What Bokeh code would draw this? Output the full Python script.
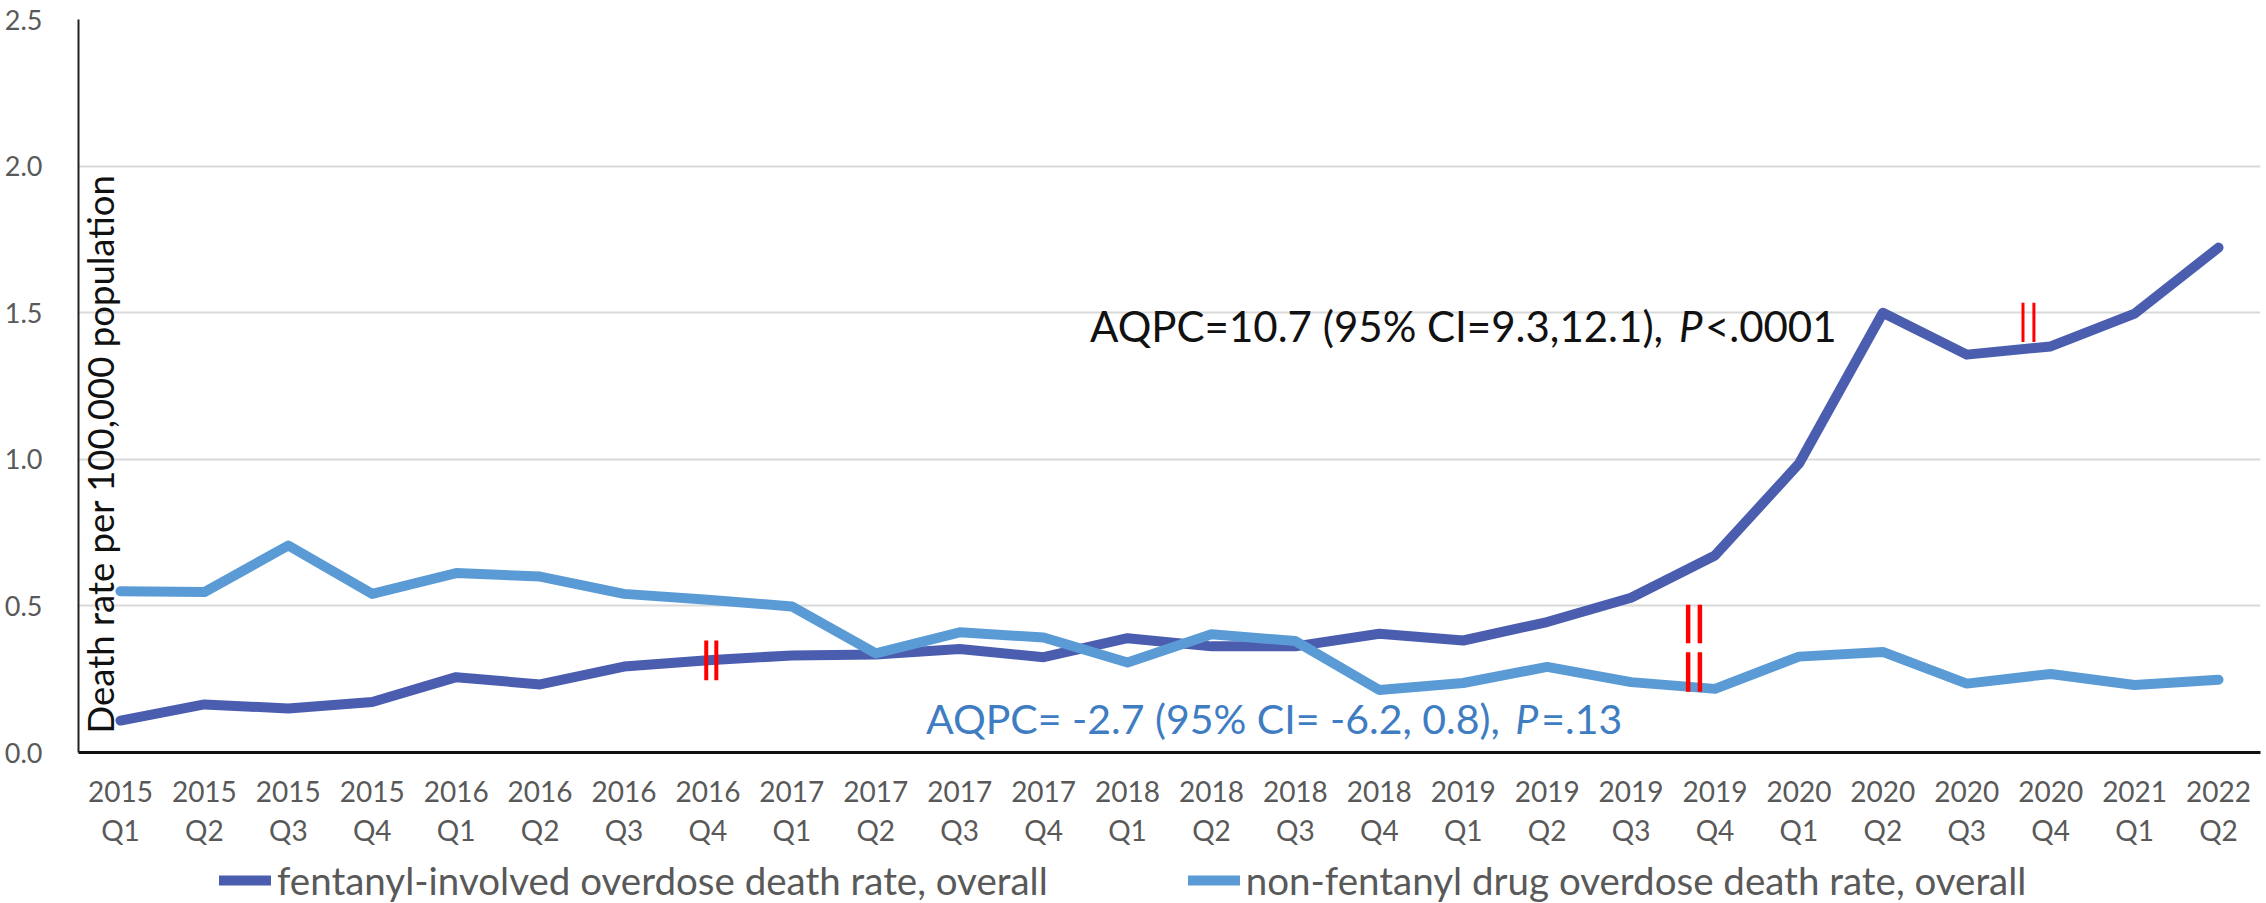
import math
from bokeh.plotting import figure
from bokeh.layouts import column
from bokeh.models import (FactorRange, Range1d, FixedTicker, NumeralTickFormatter,
                          Legend, LegendItem, Label)
from bokeh.embed import file_html
from bokeh.resources import INLINE

years = ["2015", "2015", "2015", "2015", "2016", "2016", "2016", "2016",
         "2017", "2017", "2017", "2017", "2018", "2018", "2018", "2018",
         "2019", "2019", "2019", "2019", "2020", "2020", "2020", "2020",
         "2021", "2022"]
quarters = ["Q1", "Q2", "Q3", "Q4", "Q1", "Q2", "Q3", "Q4",
            "Q1", "Q2", "Q3", "Q4", "Q1", "Q2", "Q3", "Q4",
            "Q1", "Q2", "Q3", "Q4", "Q1", "Q2", "Q3", "Q4",
            "Q1", "Q2"]
fentanyl = [0.109, 0.164, 0.150, 0.172, 0.257, 0.232, 0.293, 0.315,
            0.331, 0.334, 0.353, 0.325, 0.390, 0.362, 0.362, 0.405,
            0.382, 0.445, 0.528, 0.672, 0.985, 1.500, 1.357, 1.385,
            1.497, 1.722]
non_fentanyl = [0.550, 0.547, 0.706, 0.541, 0.612, 0.600, 0.541, 0.521,
                0.498, 0.338, 0.410, 0.392, 0.307, 0.403, 0.380, 0.213,
                0.237, 0.292, 0.240, 0.217, 0.327, 0.343, 0.235, 0.268,
                0.230, 0.248]
y_ticks = [0.0, 0.5, 1.0, 1.5, 2.0, 2.5]
series_names = ["fentanyl-involved overdose death rate, overall",
                "non-fentanyl drug overdose death rate, overall"]

# joinpoint break markers (synthetic categorical x, y extent)
break_x = [7.48, 7.60, 19.18, 19.32, 19.18, 19.32, 23.17, 23.30]
break_y0 = [0.246, 0.246, 0.373, 0.373, 0.207, 0.207, 1.400, 1.400]
break_y1 = [0.382, 0.382, 0.504, 0.504, 0.342, 0.342, 1.534, 1.534]
break_w = [4, 4, 4.5, 4.5, 4.5, 4.5, 3, 3]

categories = [f"{y}\n{q}" for y, q in zip(years, quarters)]

FONT = "Lato"
GRAY = "#595959"
DARK = "#4A5DAF"
LIGHT = "#5B9BD5"

xr = FactorRange(*categories, range_padding=0)
p = figure(width=2262, height=857, x_range=xr,
           y_range=Range1d(0, 2.5), output_backend="svg", toolbar_location=None,
           min_border_left=78, min_border_right=2, min_border_top=19,
           min_border_bottom=105)
p.outline_line_color = None
p.background_fill_color = "white"
p.border_fill_color = "white"

p.xgrid.grid_line_color = None
p.ygrid.grid_line_color = "#D9D9D9"
p.ygrid.grid_line_width = 2
p.ygrid.ticker = FixedTicker(ticks=y_ticks)

p.yaxis.ticker = FixedTicker(ticks=y_ticks)
p.yaxis.formatter = NumeralTickFormatter(format="0.0")
p.yaxis.axis_line_color = "#222222"
p.yaxis.axis_line_width = 2
p.yaxis.major_tick_line_color = None
p.yaxis.minor_tick_line_color = None
p.yaxis.major_label_standoff = 30
p.yaxis.major_label_text_font = FONT
p.yaxis.major_label_text_font_size = "27px"
p.yaxis.major_label_text_color = GRAY

p.xaxis.axis_line_color = "#111111"
p.xaxis.axis_line_width = 3
p.xaxis.major_tick_line_color = None
p.xaxis.minor_tick_line_color = None
p.xaxis.major_label_standoff = 15
p.xaxis.major_label_text_font = FONT
p.xaxis.major_label_text_font_size = "28px"
p.xaxis.major_label_text_color = GRAY
p.xaxis.major_label_text_line_height = 1.15

p.line(categories, fentanyl, line_color=DARK, line_width=10,
       line_join="round", line_cap="round")
p.line(categories, non_fentanyl, line_color=LIGHT, line_width=10,
       line_join="round", line_cap="round")

for bx, b0, b1, bw in zip(break_x, break_y0, break_y1, break_w):
    p.segment(x0=[bx], y0=[b0], x1=[bx], y1=[b1], line_color="#FF0000", line_width=bw)

# y axis title placed inside the plot
p.add_layout(Label(x=0.262, y=0.065, text="Death rate per 100,000 population",
                   angle=math.pi / 2, text_font=FONT, text_font_size="36.5px",
                   text_color="#111111", text_align="left", text_baseline="middle"))

# AQPC annotations (with italic P)
def add_annot(x, y, pre, post, color, size):
    p.add_layout(Label(x=x, y=y, text=pre, text_font=FONT, text_font_size=size,
                       text_color=color, text_align="right", text_baseline="alphabetic"))
    p.add_layout(Label(x=x, y=y, x_offset=5, text="P", text_font=FONT,
                       text_font_style="italic", text_font_size=size,
                       text_color=color, text_align="left", text_baseline="alphabetic"))
    p.add_layout(Label(x=x, y=y, x_offset=31, text=post, text_font=FONT,
                       text_font_size=size, text_color=color, text_align="left",
                       text_baseline="alphabetic"))

add_annot(19.01, 1.456, "AQPC=10.7 (95% CI=9.3,12.1), ", "<.0001", "#111111", "42px")
add_annot(17.06, 0.116, "AQPC= -2.7 (95% CI= -6.2, 0.8), ", "=.13", "#3F7DC2", "41px")

# legend strip below the chart: same series, drawn outside this strip's y range
q = figure(width=2262, height=46, x_range=xr, y_range=Range1d(10, 11),
           output_backend="svg", toolbar_location=None, x_axis_type=None,
           y_axis_type=None, min_border=0, min_border_left=0, min_border_right=0,
           min_border_top=0, min_border_bottom=0)
q.outline_line_color = None
q.border_fill_color = "white"
q.background_fill_color = "white"
lf = q.line(categories, fentanyl, line_color=DARK, line_width=10, line_cap="round")
ln = q.line(categories, non_fentanyl, line_color=LIGHT, line_width=10, line_cap="round")
legend = Legend(items=[
    LegendItem(label=series_names[0], renderers=[lf]),
    LegendItem(label=series_names[1], renderers=[ln]),
], orientation="horizontal", location=(141, 0), border_line_color=None,
    background_fill_alpha=0, label_text_font=FONT, label_text_font_size="38.5px",
    label_text_color=GRAY, glyph_width=52, glyph_height=20, label_standoff=6,
    spacing=140, padding=0, margin=0)
q.add_layout(legend, "center")

layout = column(p, q, spacing=0)
open("out.html", "w").write(file_html(layout, INLINE))
